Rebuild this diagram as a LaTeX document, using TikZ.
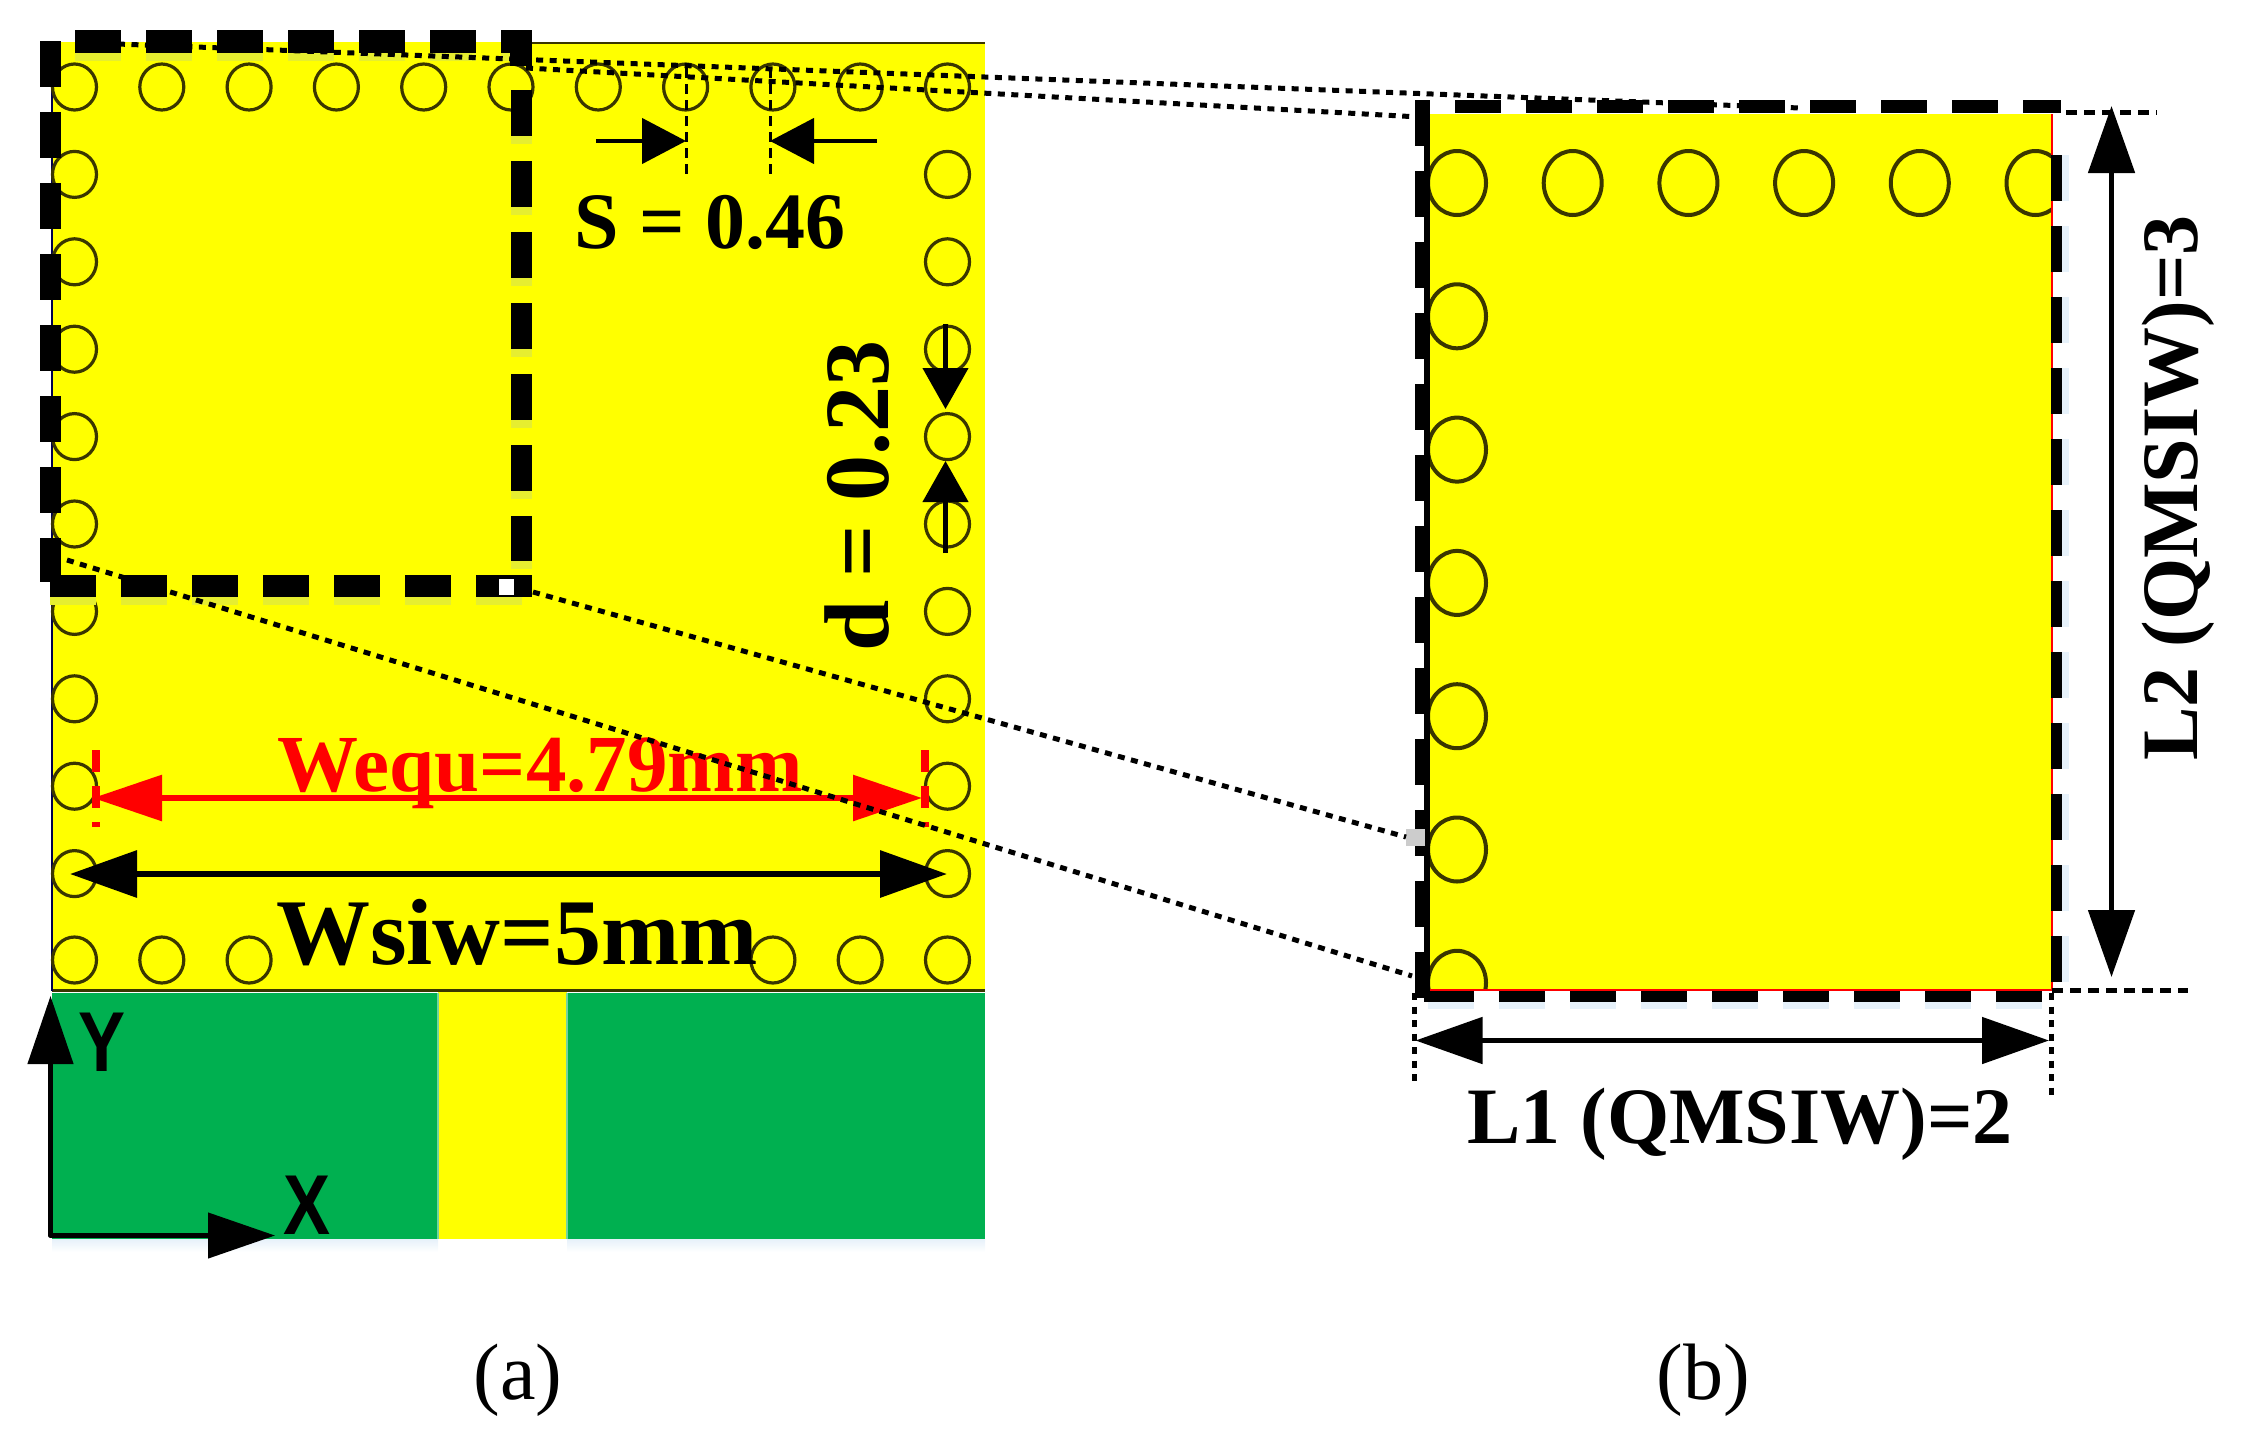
\documentclass[tikz,border=0pt]{standalone}
\usepackage{fontspec}
\setmainfont{Liberation Serif}
\newfontfamily\axisfont{Liberation Sans}
\usetikzlibrary{arrows.meta}
\definecolor{patchy}{HTML}{FFFF00}
\definecolor{gnd}{HTML}{00B050}
\definecolor{viaedge}{HTML}{3A3600}
\definecolor{glowb}{HTML}{E6F1FA}
\definecolor{glowy}{HTML}{E6EE30}
\tikzset{
 x=1pt,y=-1pt,
 via/.style={draw=viaedge,line width=3.2pt},
 thickdash/.style={line width=#1,dash pattern=on 46pt off 25pt,black},
 fineline/.style={line width=5pt,dash pattern=on 7pt off 6.5pt,black},
 dimline/.style={black,line width=5pt,{Triangle[length=67pt,width=46pt]}-{Triangle[length=67pt,width=46pt]}},
 oneway/.style={black,line width=4.5pt,-{Triangle[length=#1,width=45pt]}},
 lbl/.style={inner sep=0pt,anchor=base,font=\bfseries\fontsize{#1}{#1}\selectfont},
 captext/.style={inner sep=0pt,anchor=base,font=\fontsize{80}{80}\selectfont},
 axl/.style={inner sep=0pt,anchor=base,font=\axisfont\bfseries\fontsize{85}{85}\selectfont}
}
\begin{document}
\begin{tikzpicture}
\useasboundingbox (0,0) rectangle (2253,1451);
% ---------- (a) substrate
\fill[patchy] (52,42) rectangle (985,991);
\fill[patchy] (438,991) rectangle (567,1239);
\shade[top color=glowb,bottom color=white] (52,1239) rectangle (438,1252);
\shade[top color=glowb,bottom color=white] (567,1239) rectangle (985,1252);
\fill[gnd] (52,993) rectangle (438,1239);
\fill[gnd] (567,993) rectangle (985,1239);
\draw[gnd!55!white,line width=1.5pt] (438,993) -- (438,1239) (567,993) -- (567,1239);
\draw[viaedge,line width=2pt] (532,43) -- (985,43);
\draw[viaedge,line width=3pt] (52,990) -- (985,990);
\draw[black!70!blue,line width=2pt] (52,42) -- (52,991);
% vias (a)
\foreach \c in {0,...,10}{
  \draw[via] ({74.5+87.3*\c},87) ellipse (22 and 23);
}
\foreach \r in {1,...,9}{
  \draw[via] (74.5,{87+87.4*\r}) ellipse (22 and 23);
  \draw[via] (947.5,{87+87.4*\r}) ellipse (22 and 23);
}
\foreach \c in {0,1,2,8,9,10}{
  \draw[via] ({74.5+87.3*\c},960) ellipse (22 and 23);
}
% ---------- (b) magnified
\fill[patchy] (1429,114) rectangle (2052,990);
\begin{scope}
\clip (1429,114) rectangle (2052,990);
\foreach \c in {0,...,5}{
  \draw[via,line width=4pt] ({1457+115.7*\c},183) ellipse (29 and 32);
}
\foreach \r in {1,...,6}{
  \draw[via,line width=4pt] (1457,{183+133.3*\r}) ellipse (29 and 32);
}
\end{scope}
\draw[red,line width=1.5pt] (2052,114) -- (2052,990) -- (1429,990);
% ---------- soft glow of the dashes
\draw[thickdash=21pt,glowy] (521,98) -- (521,569);
\draw[thickdash=22pt,glowy] (50,594) -- (532,594);
\draw[thickdash=23pt,glowy] (75,49.5) -- (532,49.5);
\draw[thickdash=11pt,glowb] (2063,155) -- (2063,990);
\draw[thickdash=11pt,glowb] (1428,1003.5) -- (2045,1003.5);
% ---------- thick dashed boxes
\coordinate (atl) at (50.5,41);
\coordinate (abl) at (50.5,582);
\coordinate (abr) at (532,586);
\draw[thickdash=21pt] (atl) -- (abl);
\draw[thickdash=23pt] (75,41.5) -- (532,41.5);
\draw[thickdash=21pt] (521,90) -- (521,561);
\draw[thickdash=22pt] (50,586) -- (abr);
\fill[black] (510,30) rectangle (532,66);
\fill[black] (510,575) rectangle (532,597);
\fill[white] (499,579) rectangle (514,595);
\draw[thickdash=14pt] (1422,100) -- (1422,1002);
\draw[black,line width=6pt] (1427,100) -- (1427,1002);
\draw[thickdash=13pt] (1455,106.5) -- (2061,106.5);
\draw[thickdash=11pt] (2056,155) -- (2056,990);
\draw[thickdash=11pt] (1428,996.5) -- (2045,996.5);
\fill[black!20] (1406,829) rectangle (1425,846);
% ---------- zoom guide lines
\coordinate (g1a) at (91,43);
\coordinate (g1b) at (1800,108);
\coordinate (g2a) at (526,68);
\coordinate (g2b) at (1412,116.6);
\coordinate (g3a) at (533,592);
\coordinate (g3b) at (1406,837);
\coordinate (g4a) at (67,560);
\coordinate (g4b) at (1412,976);
\draw[fineline] (g1a) -- (g1b);
\draw[fineline] (g2a) -- (g2b);
\draw[fineline] (g3a) -- (g3b);
% extension lines (b)
\coordinate (e1a) at (2066,112);
\coordinate (e1b) at (2157,112);
\coordinate (e2a) at (2052,990);
\coordinate (e2b) at (2188,990);
\coordinate (e3a) at (1414,993);
\coordinate (e3b) at (1414,1085);
\coordinate (e4a) at (2051,993);
\coordinate (e4b) at (2051,1099);
\draw[fineline,dash pattern=on 11pt off 7pt] (e1a) -- (e1b);
\draw[fineline,dash pattern=on 11pt off 7pt] (e2a) -- (e2b);
\draw[fineline] (e3a) -- (e3b);
\draw[fineline] (e4a) -- (e4b);
% ---------- S dimension
\coordinate (sa) at (596,141);
\coordinate (sb) at (686,141);
\coordinate (sc) at (877,141);
\coordinate (sd) at (770,141);
\draw[black,line width=3pt,dash pattern=on 10pt off 6pt] (686,68) -- (686,177);
\draw[black,line width=3pt,dash pattern=on 10pt off 6pt] (770,68) -- (770,177);
\draw[oneway=44pt] (sa) -- (sb);
\draw[oneway=44pt] (sc) -- (sd);
\node[lbl=80] (stext) at (710,248) {S = 0.46};
% ---------- d dimension
\coordinate (da) at (945.5,324);
\coordinate (db) at (945.5,409);
\coordinate (dc) at (945.5,553);
\coordinate (dd) at (945.5,461);
\draw[oneway=41pt] (da) -- (db);
\draw[oneway=41pt] (dc) -- (dd);
\node[lbl=92,rotate=90] (dtext) at (888,496) {d = 0.23};
% ---------- Wequ
\coordinate (ra) at (93,798);
\coordinate (rb) at (922,798);
\draw[red,line width=8pt,dash pattern=on 22pt off 14pt] (96,750) -- (96,827);
\draw[red,line width=8pt,dash pattern=on 22pt off 14pt] (924.5,750) -- (924.5,827);
\node[lbl=81,text=red] (wequ) at (540,791) {Wequ=4.79mm};
\draw[red,line width=6pt,{Triangle[length=69pt,width=45pt]}-{Triangle[length=69pt,width=45pt]}] (ra) -- (rb);
\draw[fineline] (g4a) -- (g4b);
% ---------- Wsiw
\coordinate (wa) at (70,874);
\coordinate (wb) at (947,874);
\draw[dimline,line width=6.5pt] (wa) -- (wb);
\node[lbl=94] (wsiw) at (517,964) {Wsiw=5mm};
% ---------- axes
\coordinate (o) at (50.5,1235.5);
\coordinate (ay) at (50.5,996);
\coordinate (ax) at (275,1235.5);
\draw[oneway=68pt,line cap=round] (o) -- (ay);
\draw[oneway=67pt,line cap=round] (o) -- (ax);
\node[axl] (ylab) at (102.5,1071) {\scalebox{.83}[1]{Y}};
\node[axl] (xlab) at (307,1234) {\scalebox{.83}[1]{X}};
% ---------- L1 / L2
\coordinate (la) at (1415.5,1040.5);
\coordinate (lb) at (2049,1040.5);
\coordinate (ma) at (2111.5,106);
\coordinate (mb) at (2111.5,977);
\draw[dimline] (la) -- (lb);
\draw[dimline] (ma) -- (mb);
\node[lbl=80] (l1) at (1740,1143) {L1 (QMSIW)=2};
\node[lbl=80,rotate=90] (l2) at (2197,488) {L2 (QMSIW)=3};
% ---------- captions
\node[captext] (capa) at (518,1399) {(a)};
\node[captext] (capb) at (1703,1399) {(b)};
\end{tikzpicture}
\end{document}
